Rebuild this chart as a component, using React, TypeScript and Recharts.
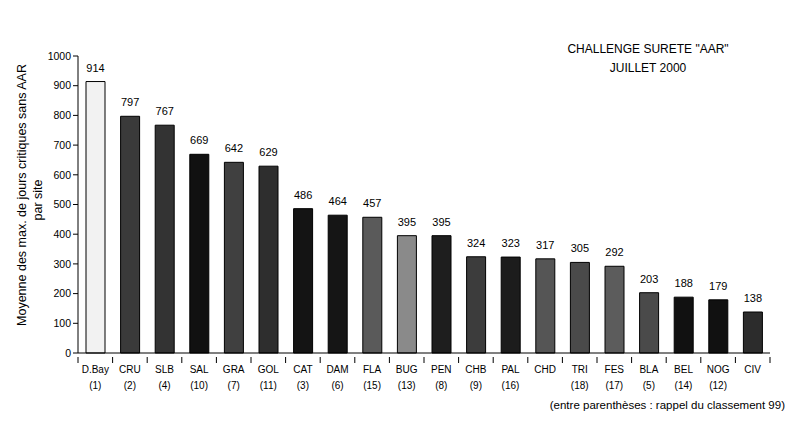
import { BarChart, Bar, XAxis, YAxis, Cell, LabelList } from 'recharts'

const sites = ['D.Bay', 'CRU', 'SLB', 'SAL', 'GRA', 'GOL', 'CAT', 'DAM', 'FLA', 'BUG', 'PEN', 'CHB', 'PAL', 'CHD', 'TRI', 'FES', 'BLA', 'BEL', 'NOG', 'CIV']
const ranks99 = ['(1)', '(2)', '(4)', '(10)', '(7)', '(11)', '(3)', '(6)', '(15)', '(13)', '(8)', '(9)', '(16)', '', '(18)', '(17)', '(5)', '(14)', '(12)', '']
const maxDays = [914, 797, 767, 669, 642, 629, 486, 464, 457, 395, 395, 324, 323, 317, 305, 292, 203, 188, 179, 138]
const yTicks = [0, 100, 200, 300, 400, 500, 600, 700, 800, 900, 1000]

// greys approximating the scanned fill patterns
const fills = ['#f2f2f2', '#3a3a3a', '#333333', '#111111', '#404040', '#2e2e2e', '#141414', '#151515', '#5a5a5a', '#8a8a8a', '#1e1e1e', '#3c3c3c', '#1c1c1c', '#555555', '#4a4a4a', '#5c5c5c', '#4a4a4a', '#111111', '#111111', '#2c2c2c']

const data = sites.map((site, i) => ({ site, rank: ranks99[i], value: maxDays[i] }))

const FONT = '"Liberation Sans", Arial, sans-serif'

function SiteTick(props: any) {
  const { x, y, payload, index } = props
  const half = 692 / sites.length / 2
  return (
    <g>
      <line x1={x - half} x2={x - half} y1={y - 4} y2={y + 2} stroke="#000" />
      {index === sites.length - 1 && <line x1={x + half} x2={x + half} y1={y - 4} y2={y + 2} stroke="#000" />}
      <text x={x} y={y + 12} textAnchor="middle" fontSize={10} fontFamily={FONT} fill="#000">{payload.value}</text>
      <text x={x} y={y + 28} textAnchor="middle" fontSize={10} fontFamily={FONT} fill="#000">{ranks99[index]}</text>
    </g>
  )
}

export default function App() {
  return (
    <div style={{ position: 'absolute', left: 0, top: 0, width: 787, height: 440, background: '#fff', fontFamily: FONT }}>
      <BarChart width={787} height={440} data={data} margin={{ top: 56, right: 17, left: 0, bottom: 47 }}>
        <XAxis dataKey="site" tick={<SiteTick />} tickLine={false} axisLine={{ stroke: '#000' }} interval={0} height={40} />
        <YAxis domain={[0, 1000]} ticks={yTicks} width={78} tickSize={5} tickLine={{ stroke: '#000' }} axisLine={{ stroke: '#000' }}
          tick={{ fill: '#000', fontSize: 10.5, fontFamily: FONT }} interval={0} />
        <Bar dataKey="value" barSize={19} stroke="#000" strokeWidth={1} isAnimationActive={false}>
          {data.map((d, i) => <Cell key={d.site} fill={fills[i]} />)}
          <LabelList dataKey="value" position="top" offset={10} fill="#000" fontSize={11} fontFamily={FONT} />
        </Bar>
      </BarChart>
      <div style={{ position: 'absolute', left: 548, top: 40, width: 200, textAlign: 'center', fontSize: 12, lineHeight: '19px', color: '#000' }}>
        CHALLENGE SURETE "AAR"<br />JUILLET 2000
      </div>
      <div style={{ position: 'absolute', left: 22 - 160, top: 195 - 8, width: 320, textAlign: 'center', fontSize: 12.5, lineHeight: '16px', transform: 'rotate(-90deg)', color: '#000' }}>
        Moyenne des max. de jours critiques sans AAR
      </div>
      <div style={{ position: 'absolute', left: 38 - 150, top: 200 - 8, width: 300, textAlign: 'center', fontSize: 12.5, lineHeight: '16px', transform: 'rotate(-90deg)', color: '#000' }}>
        par site
      </div>
      <div style={{ position: 'absolute', left: 500, top: 399, width: 285, textAlign: 'right', fontSize: 11.5, color: '#000' }}>
        (entre parenthèses : rappel du classement 99)
      </div>
    </div>
  )
}
